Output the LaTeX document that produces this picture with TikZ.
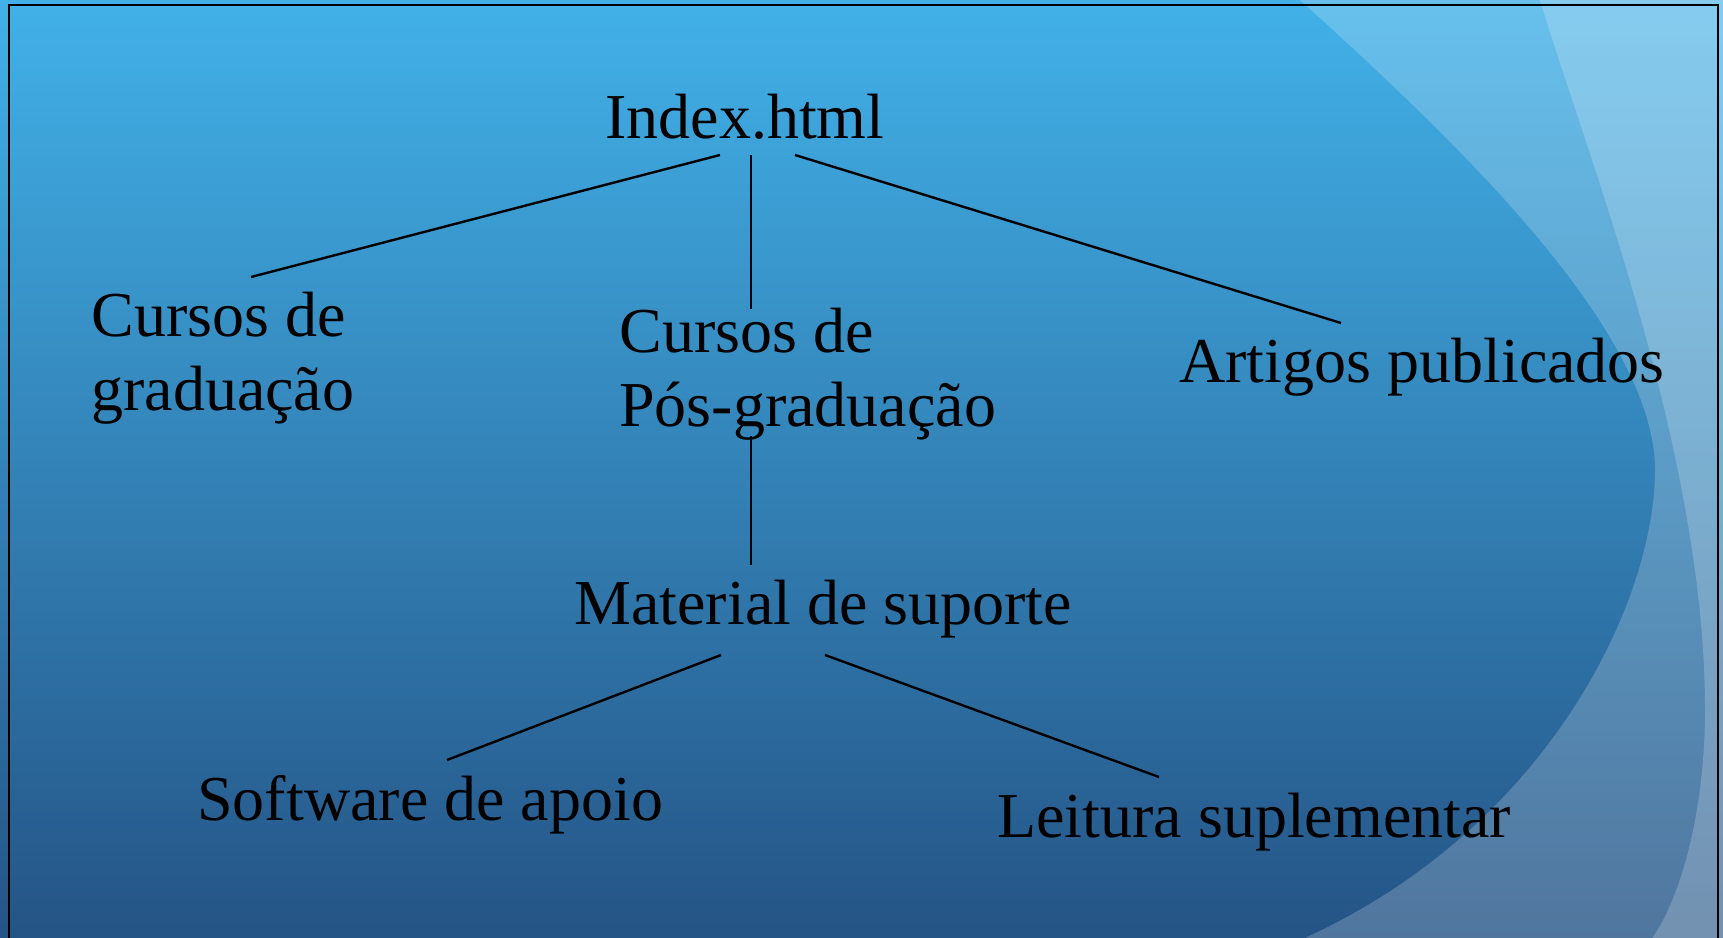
\documentclass[tikz,border=0pt]{standalone}
\usepackage{fontspec}
\setmainfont{Liberation Serif}
\definecolor{bgtop}{RGB}{65,177,232}
\definecolor{bgbot}{RGB}{37,84,134}
\tikzset{
  lbl/.style={anchor=base west, inner sep=0pt, text=black,
    font=\fontsize{32}{37}\selectfont},
  link/.style={draw=black, line width=1.2pt},
  veil/.style={fill=white, fill opacity=0.2},
}
\begin{document}
\begin{tikzpicture}[x=0.5pt, y=-0.5pt]
\useasboundingbox (0,0) rectangle (1723,937);
% background
\shade[top color=bgtop, bottom color=bgbot] (0,0) rectangle (1723,937);
\begin{scope}
  \clip (0,0) rectangle (1723,937);
  \fill[veil] (1300,0) .. controls (1448,134) and (1655,328) .. (1655,470)
     .. controls (1655,600) and (1550,825) .. (1307,937)
     -- (1280,960) -- (1760,960) -- (1760,-12) -- (1300,-12) -- cycle;
  \fill[veil] (1540,0) .. controls (1585,150) and (1705,450) .. (1705,710)
     .. controls (1705,800) and (1685,890) .. (1653,937)
     -- (1640,960) -- (1760,960) -- (1760,-12) -- (1540,-12) -- cycle;
\end{scope}
% frame
\draw[line width=1pt] (9,940) -- (9,5) -- (1718,5) -- (1718,940);
% nodes
\node[lbl] (idx) at (605,138) {Index.html};
\node[lbl] (cg) at (91,336) {\begin{tabular}[t]{@{}l@{}}Cursos de\\graduação\end{tabular}};
\node[lbl] (cp) at (619,352) {\begin{tabular}[t]{@{}l@{}}Cursos de\\Pós-graduação\end{tabular}};
\node[lbl] (art) at (1179,382) {Artigos publicados};
\node[lbl] (mat) at (574,624) {Material de suporte};
\node[lbl] (soft) at (197,820) {Software de apoio};
\node[lbl] (leit) at (997,837) {Leitura suplementar};
% connector ends
\coordinate (idxL) at (720,155);
\coordinate (idxC) at (751,155);
\coordinate (idxR) at (795,155);
\coordinate (cgT) at (251,277);
\coordinate (cpT) at (751,309);
\coordinate (artT) at (1341,323);
\coordinate (cpB) at (751,436);
\coordinate (matT) at (751,565);
\coordinate (matL) at (721,655);
\coordinate (matR) at (825,655);
\coordinate (softT) at (447,760);
\coordinate (leitT) at (1159,777);
% connectors
\draw[link] (idxL) -- (cgT);
\draw[link] (idxC) -- (cpT);
\draw[link] (idxR) -- (artT);
\draw[link] (cpB) -- (matT);
\draw[link] (matL) -- (softT);
\draw[link] (matR) -- (leitT);
\end{tikzpicture}
\end{document}
